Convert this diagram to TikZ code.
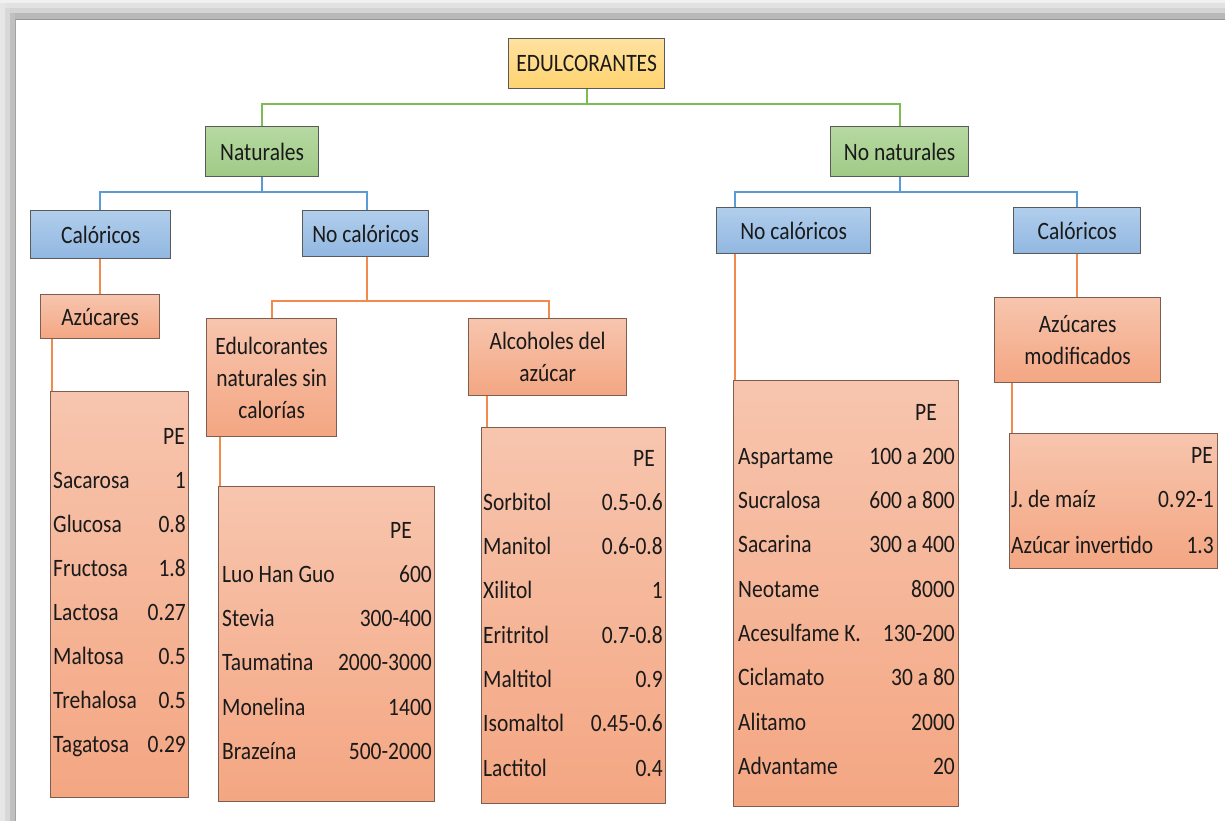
\documentclass[tikz,border=0pt]{standalone}
\usepackage{fontspec}
\setmainfont{Carlito}[FakeStretch=0.86]
\definecolor{ytop}{HTML}{FFE2A0}
\definecolor{ybot}{HTML}{FFD36F}
\definecolor{gtop}{HTML}{B6D9A2}
\definecolor{gbot}{HTML}{A0CA86}
\definecolor{btop}{HTML}{B1CEEC}
\definecolor{bbot}{HTML}{91B7E1}
\definecolor{otop}{HTML}{F7C5AE}
\definecolor{obot}{HTML}{F4A682}
\definecolor{bord}{HTML}{5A5A5A}
\definecolor{obord}{HTML}{7E5E50}
\definecolor{gl}{HTML}{7DBB55}
\definecolor{bl}{HTML}{5B9BD5}
\definecolor{ol}{HTML}{F28A4B}
\definecolor{txt}{HTML}{1A1A1A}
\tikzset{
  box/.style={draw=bord, line width=1.3pt, inner sep=2pt, anchor=north west, align=center, text=txt, font=\fontsize{25}{32}\selectfont},
  ybox/.style={box, top color=ytop, bottom color=ybot},
  gbox/.style={box, top color=gtop, bottom color=gbot},
  bbox/.style={box, top color=btop, bottom color=bbot},
  obox/.style={box, draw=obord, top color=otop, bottom color=obot},
  lbl/.style={anchor=mid west, inner sep=0pt, text=txt, font=\fontsize{25}{30}\selectfont},
  val/.style={anchor=mid east, inner sep=0pt, text=txt, font=\fontsize{25}{30}\selectfont},
  gline/.style={draw=gl, line width=2pt},
  bline/.style={draw=bl, line width=2pt},
  oline/.style={draw=ol, line width=1.8pt},
}
\begin{document}
\begin{tikzpicture}[x=1pt, y=-1pt]
\useasboundingbox (0,0) rectangle (1225,821);
% frame
\fill[white] (0,0) rectangle (1225,821);
\fill[color={rgb,255:red,240;green,240;blue,240}] (0,0) rectangle (1225,3);
\fill[color={rgb,255:red,226;green,226;blue,226}] (0,3) rectangle (1225,8);
\fill[color={rgb,255:red,212;green,212;blue,212}] (0,8) rectangle (1225,13);
\fill[color={rgb,255:red,184;green,184;blue,184}] (0,13) rectangle (1225,19);
\fill[color={rgb,255:red,150;green,150;blue,150}] (15,19) rectangle (1225,20);
\fill[color={rgb,255:red,230;green,230;blue,230}] (0,3) rectangle (5,821);
\fill[color={rgb,255:red,216;green,216;blue,216}] (5,8) rectangle (10,821);
\fill[color={rgb,255:red,192;green,192;blue,192}] (10,13) rectangle (15,821);
\fill[color={rgb,255:red,162;green,162;blue,162}] (15,19) rectangle (16,821);

% boxes
\node[ybox, minimum width=156pt, minimum height=50pt] (edul) at (508,38) {EDULCORANTES};
\node[gbox, minimum width=113pt, minimum height=50pt] (nat) at (205,126) {Naturales};
\node[gbox, minimum width=138pt, minimum height=50pt] (nonat) at (830,126) {No naturales};
\node[bbox, minimum width=140pt, minimum height=48pt] (calL) at (30,210) {Calóricos};
\node[bbox, minimum width=126pt, minimum height=46pt] (ncL) at (302,210) {No calóricos};
\node[bbox, minimum width=154pt, minimum height=46pt] (ncR) at (716,207) {No calóricos};
\node[bbox, minimum width=127pt, minimum height=46pt] (calR) at (1013,207) {Calóricos};
\node[obox, minimum width=119pt, minimum height=44pt] (azu) at (40,294) {Azúcares};
\node[obox, minimum width=130pt, minimum height=118pt] (ens) at (206,318) {Edulcorantes\\naturales sin\\calorías};
\node[obox, minimum width=158pt, minimum height=77pt] (alc) at (468,318) {Alcoholes del\\azúcar};
\node[obox, minimum width=166pt, minimum height=85pt] (azm) at (994,297) {Azúcares\\modificados};
\node[obox, minimum width=138pt, minimum height=406pt] (t1) at (50,391) {};
\node[obox, minimum width=216pt, minimum height=315pt] (t2) at (218,486) {};
\node[obox, minimum width=184pt, minimum height=376pt] (t3) at (481,427) {};
\node[obox, minimum width=225pt, minimum height=426pt] (t4) at (733,380) {};
\node[obox, minimum width=208pt, minimum height=135pt] (t5) at (1009,433) {};

% junction coordinates
\coordinate (gy) at (0,104);
\coordinate (by) at (0,192);
\coordinate (oy) at (0,301);
\coordinate (x100) at (100,0);
\coordinate (x367) at (367,0);
\coordinate (x735) at (735,0);
\coordinate (x1077) at (1077,0);
\coordinate (x272) at (272,0);
\coordinate (x549) at (549,0);
\coordinate (x52) at (52,0);
\coordinate (x220) at (220,0);
\coordinate (x487) at (487,0);
\coordinate (x1012) at (1012,0);

% green connectors
\draw[gline] (edul.south) -- (edul.south |- gy) -| (nat.north);
\draw[gline] (edul.south |- gy) -| (nonat.north);
% blue connectors
\draw[bline] (nat.south) -- (nat.south |- by) -| (calL.north -| x100);
\draw[bline] (nat.south |- by) -| (ncL.north -| x367);
\draw[bline] (nonat.south) -- (nonat.south |- by) -| (ncR.north -| x735);
\draw[bline] (nonat.south |- by) -| (calR.north -| x1077);
% orange connectors
\draw[oline] (calL.south -| x100) -- (azu.north -| x100);
\draw[oline] (azu.south -| x52) -- (t1.north -| x52);
\draw[oline] (ncL.south -| x367) -- (oy -| x367) -| (ens.north -| x272);
\draw[oline] (oy -| x367) -| (alc.north -| x549);
\draw[oline] (ens.south -| x220) -- (t2.north -| x220);
\draw[oline] (alc.south -| x487) -- (t3.north -| x487);
\draw[oline] (ncR.south -| x735) -- (t4.north -| x735);
\draw[oline] (calR.south -| x1077) -- (azm.north -| x1077);
\draw[oline] (azm.south -| x1012) -- (t5.north -| x1012);

% table 1
\node[val] (t1pe) at (185,442) {PE};
\foreach \l/\v [count=\i] in {Sacarosa/1, Glucosa/0.8, Fructosa/1.8, Lactosa/0.27, Maltosa/0.5, Trehalosa/0.5, Tagatosa/0.29}{
  \node[lbl] (t1l\i) at (53,{486+44*(\i-1)}) {\l};
  \node[val] (t1v\i) at (186,{486+44*(\i-1)}) {\v};
}
% table 2
\node[val] (t2pe) at (412,536) {PE};
\foreach \l/\v [count=\i] in {Luo Han Guo/600, Stevia/300-400, Taumatina/2000-3000, Monelina/1400, Brazeína/500-2000}{
  \node[lbl] (t2l\i) at (222,{580+44.3*(\i-1)}) {\l};
  \node[val] (t2v\i) at (432,{580+44.3*(\i-1)}) {\v};
}
% table 3
\node[val] (t3pe) at (655,464) {PE};
\foreach \l/\v [count=\i] in {Sorbitol/0.5-0.6, Manitol/0.6-0.8, Xilitol/1, Eritritol/0.7-0.8, Maltitol/0.9, Isomaltol/0.45-0.6, Lactitol/0.4}{
  \node[lbl] (t3l\i) at (483,{508+44.3*(\i-1)}) {\l};
  \node[val] (t3v\i) at (663,{508+44.3*(\i-1)}) {\v};
}
% table 4
\node[val] (t4pe) at (937,418) {PE};
\foreach \l/\v [count=\i] in {Aspartame/100 a 200, Sucralosa/600 a 800, Sacarina/300 a 400, Neotame/8000, Acesulfame K./130-200, Ciclamato/30 a 80, Alitamo/2000, Advantame/20}{
  \node[lbl] (t4l\i) at (738,{462+44.3*(\i-1)}) {\l};
  \node[val] (t4v\i) at (955,{462+44.3*(\i-1)}) {\v};
}
% table 5
\node[val] (t5pe) at (1213,461) {PE};
\node[lbl] (t5l1) at (1011,505) {J. de maíz};
\node[val] (t5v1) at (1214,505) {0.92-1};
\node[lbl] (t5l2) at (1011,551) {Azúcar invertido};
\node[val] (t5v2) at (1214,551) {1.3};
\end{tikzpicture}
\end{document}
